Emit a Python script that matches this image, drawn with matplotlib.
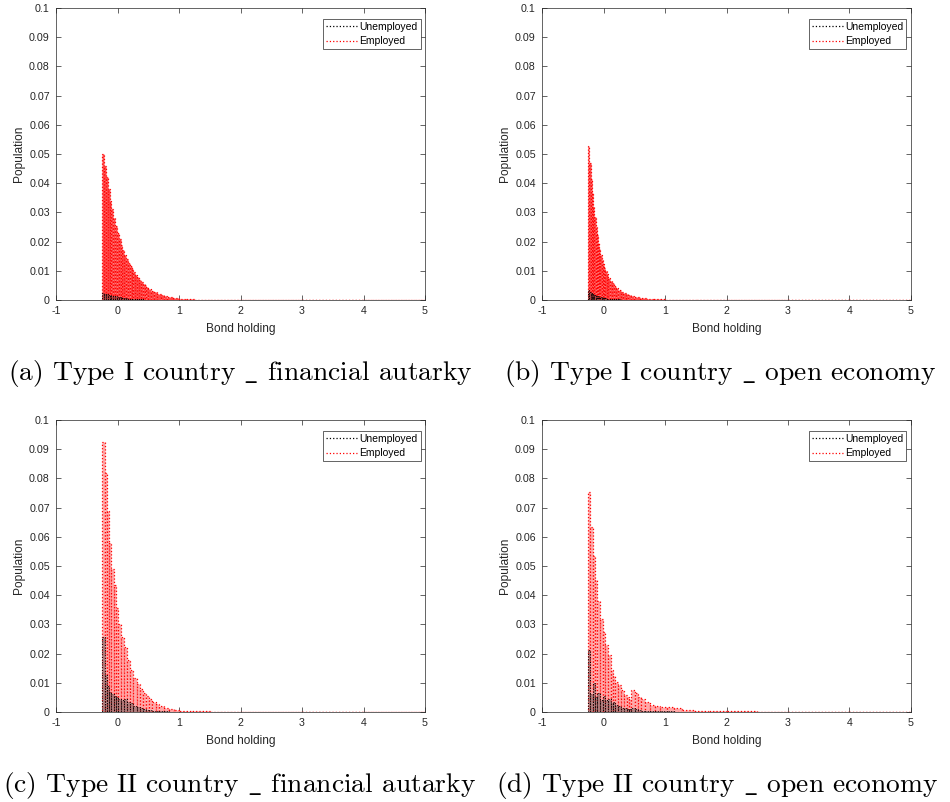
import numpy as np
import matplotlib
matplotlib.use("Agg")
import matplotlib.pyplot as plt
from matplotlib.lines import Line2D
from matplotlib.ticker import FormatStrFormatter

plt.rcParams['font.family'] = ['Liberation Sans', 'DejaVu Sans']
plt.rcParams['axes.unicode_minus'] = False
plt.rcParams['mathtext.fontset'] = 'cm'

# (a) Type I country - financial autarky
a_x = [-0.25, -0.22, -0.19, -0.16, -0.13, -0.10, -0.07, -0.04, -0.01, 0.02,
       0.05, 0.08, 0.11, 0.14, 0.17, 0.20, 0.23, 0.26, 0.29, 0.32,
       0.35, 0.38, 0.41, 0.44, 0.47, 0.50, 0.55, 0.60, 0.65, 0.70,
       0.75, 0.80, 0.90, 1.00, 1.10, 1.25, 1.50, 2.0, 3.0, 4.0]
a_emp = [0.0500, 0.0460, 0.0420, 0.0380, 0.0340, 0.0310, 0.0280, 0.0255, 0.0230, 0.0210,
         0.0190, 0.0170, 0.0155, 0.0140, 0.0128, 0.0116, 0.0105, 0.0095, 0.0086, 0.0078,
         0.0070, 0.0063, 0.0056, 0.0050, 0.0044, 0.0039, 0.0032, 0.0026, 0.0021, 0.0016,
         0.0013, 0.0010, 0.0006, 0.0004, 0.00025, 0.00015, 0.00008, 0.00003, 0.00001, 0.0]
a_unemp = [0.0025, 0.0022, 0.0020, 0.0018, 0.0016, 0.0014, 0.0013, 0.0012, 0.0011, 0.0010,
           0.0009, 0.0008, 0.0007, 0.0006, 0.0005, 0.0004, 0.0003, 0.0003, 0.0003, 0.0002,
           0.0002, 0.0002, 0.00015, 0.00012, 0.0001, 0.0001, 0.00008, 0.00006, 0.00005, 0.00004,
           0.00003, 0.00002, 0.00001, 0.00001, 0.0, 0.0, 0.0, 0.0, 0.0, 0.0]

# (b) Type I country - open economy
b_x = [-0.25, -0.23, -0.21, -0.19, -0.17, -0.15, -0.13, -0.11, -0.09, -0.07,
       -0.05, -0.03, -0.01, 0.01, 0.03, 0.05, 0.08, 0.11, 0.14, 0.17,
       0.20, 0.24, 0.28, 0.32, 0.36, 0.40, 0.45, 0.50, 0.60, 0.70,
       0.80, 1.0, 1.5, 2.0, 3.0, 4.0]
b_emp = [0.0527, 0.0470, 0.0415, 0.0365, 0.0320, 0.0283, 0.0250, 0.0222, 0.0196, 0.0174,
         0.0155, 0.0138, 0.0123, 0.0110, 0.0099, 0.0090, 0.0077, 0.0066, 0.0057, 0.0049,
         0.0042, 0.0035, 0.0029, 0.0024, 0.0020, 0.0016, 0.0013, 0.0010, 0.0006, 0.0004,
         0.00025, 0.00012, 0.00005, 0.00002, 0.00001, 0.0]
b_unemp = [0.0033, 0.0028, 0.0025, 0.0022, 0.0019, 0.0017, 0.0015, 0.0013, 0.0012, 0.0011,
           0.0010, 0.0009, 0.0008, 0.0007, 0.0006, 0.0005, 0.0004, 0.0004, 0.0003, 0.0003,
           0.0002, 0.0002, 0.00015, 0.0001, 0.0001, 0.00008, 0.00006, 0.00004, 0.00002, 0.00001,
           0.0, 0.0, 0.0, 0.0, 0.0, 0.0]

# (c) Type II country - financial autarky
c_x = [-0.25, -0.21, -0.17, -0.135, -0.10, -0.065, -0.025, 0.015, 0.06, 0.11,
       0.16, 0.21, 0.26, 0.31, 0.36, 0.41, 0.46, 0.51, 0.56, 0.62,
       0.68, 0.75, 0.83, 0.92, 1.0, 1.2, 1.5, 2.0, 3.0, 4.0]
c_emp = [0.0924, 0.0817, 0.0690, 0.0580, 0.0490, 0.0435, 0.0355, 0.0303, 0.0258, 0.0224,
         0.0178, 0.0144, 0.0115, 0.0095, 0.0080, 0.0066, 0.0055, 0.0045, 0.0035, 0.0027,
         0.0020, 0.0014, 0.0009, 0.0006, 0.0004, 0.0002, 0.0001, 0.00005, 0.00002, 0.0]
c_unemp = [0.0258, 0.0127, 0.0090, 0.0070, 0.0060, 0.0055, 0.0050, 0.0045, 0.0040, 0.0045,
           0.0035, 0.0030, 0.0020, 0.0016, 0.0012, 0.0010, 0.0008, 0.0006, 0.0005, 0.0004,
           0.0003, 0.0002, 0.0001, 0.0001, 0.00005, 0.0, 0.0, 0.0, 0.0, 0.0]

# (d) Type II country - open economy
d_x = [-0.25, -0.215, -0.175, -0.138, -0.10, -0.055, -0.013, 0.03, 0.075, 0.118,
       0.16, 0.19, 0.236, 0.29, 0.33, 0.377, 0.41, 0.45, 0.51, 0.56,
       0.615, 0.68, 0.76, 0.84, 0.92, 1.03, 1.14, 1.27, 1.48, 1.7,
       2.0, 2.5, 3.0, 4.0]
d_emp = [0.0753, 0.0635, 0.0534, 0.0452, 0.0381, 0.0320, 0.0273, 0.0229, 0.0195, 0.0144,
         0.0123, 0.0104, 0.0092, 0.0075, 0.0058, 0.0050, 0.0045, 0.0075, 0.0064, 0.0053,
         0.0043, 0.0035, 0.0024, 0.0021, 0.0017, 0.0018, 0.0012, 0.0008, 0.0005, 0.0003,
         0.0002, 0.0001, 0.00005, 0.0]
d_unemp = [0.0212, 0.0060, 0.0098, 0.0050, 0.0065, 0.0040, 0.0055, 0.0040, 0.0045, 0.0030,
           0.0035, 0.0025, 0.0020, 0.0015, 0.0012, 0.0010, 0.0009, 0.0012, 0.0009, 0.0007,
           0.0005, 0.0004, 0.0003, 0.0002, 0.0002, 0.0002, 0.0001, 0.0001, 0.00005, 0.0,
           0.0, 0.0, 0.0, 0.0]

captions = ["(a) Type I country $\\_$ financial autarky",
            "(b) Type I country $\\_$ open economy",
            "(c) Type II country $\\_$ financial autarky",
            "(d) Type II country $\\_$ open economy"]

panels = [(a_x, a_emp, a_unemp), (b_x, b_emp, b_unemp),
          (c_x, c_emp, c_unemp), (d_x, d_emp, d_unemp)]

W, H = 950, 802
fig = plt.figure(figsize=(W / 100, H / 100), dpi=100)

# axes boxes in pixels: left, top, right, bottom
boxes = [(56, 8, 425, 300), (542, 8, 911, 300),
         (56, 420, 425, 712), (542, 420, 911, 712)]
cap_pos = [(240, 380), (720, 380), (240, 792), (717, 792)]
red_face = ['#ff4a4a', '#ff4a4a', '#ffa8a8', '#ffa8a8']

ink = '#262626'
for i, (x, emp, unemp) in enumerate(panels):
    l, t, r, b = boxes[i]
    ax = fig.add_axes([l / W, 1 - b / H, (r - l) / W, (b - t) / H])
    x = np.array(x)
    edges = np.append(x, 5.0)
    widths = np.diff(edges)
    ax.bar(x, emp, width=widths, align='edge', color=red_face[i],
           edgecolor='red', linestyle=':', linewidth=0.9, zorder=2)
    ax.bar(x, unemp, width=widths, align='edge', color=(0.3, 0.3, 0.3, 0.45),
           edgecolor='black', linestyle=':', linewidth=0.7, zorder=3)

    ax.set_xlim(-1, 5)
    ax.set_ylim(0, 0.1)
    ax.set_xticks(np.arange(-1, 6, 1))
    ax.set_yticks(np.arange(0, 0.101, 0.01))
    ax.xaxis.set_major_formatter(FormatStrFormatter('%g'))
    ax.yaxis.set_major_formatter(FormatStrFormatter('%g'))
    ax.tick_params(direction='in', length=3.5, width=0.5, top=True, right=True,
                   colors=ink, labelsize=7.7)
    ax.tick_params(axis='x', pad=4.5)
    ax.tick_params(axis='y', pad=4.5)
    for s in ax.spines.values():
        s.set_color(ink)
        s.set_linewidth(0.5)
    ax.set_xlabel('Bond holding', fontsize=8.6, color=ink, labelpad=5)
    ax.set_ylabel('Population', fontsize=8.6, color=ink, labelpad=3)

    handles = [Line2D([], [], color='black', linestyle=':', linewidth=0.9),
               Line2D([], [], color='red', linestyle=':', linewidth=0.9)]
    leg = ax.legend(handles, ['Unemployed', 'Employed'], loc='upper right',
                    bbox_to_anchor=(1 - 4.5 / 369, 1 - 11 / 292), borderaxespad=0,
                    fontsize=7.5, handlelength=3.0, handletextpad=0.2,
                    borderpad=0.3, labelspacing=0.4, fancybox=False, framealpha=1)
    leg.get_frame().set_edgecolor(ink)
    leg.get_frame().set_linewidth(0.5)

    cx, cy = cap_pos[i]
    fig.text(cx / W, 1 - cy / H, captions[i], ha='center', va='baseline',
             fontsize=19.8, family='cmr10')

fig.savefig('out.png', dpi=100)
